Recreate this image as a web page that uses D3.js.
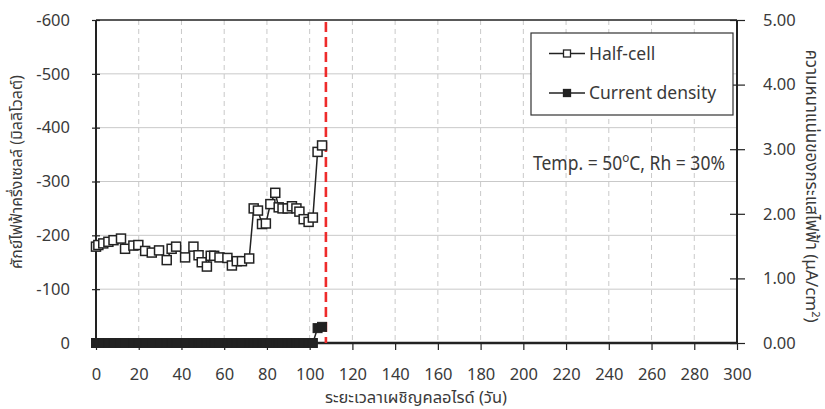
<!DOCTYPE html>
<html><head><meta charset="utf-8">
<script src="https://cdn.jsdelivr.net/npm/d3@7"></script>
<style>
body{margin:0;background:#fff;}
svg text{font-family:"Noto Sans Thai","Noto Sans","DejaVu Sans",sans-serif;fill:#3a3a3a;}
</style></head>
<body><svg id="c" width="825" height="409"></svg>
<script>
const halfDays = [0,1.1,3.4,5.8,8.2,11.7,13.6,17.5,19.8,23,26.1,29.5,33.1,35.4,37.5,41.7,45.6,48,49.5,51.9,53.7,55.3,57.8,61.5,63.6,65.9,68.3,71.7,73.8,75.8,77.7,79.5,81.6,83.9,85.5,87.3,89.7,91.7,93.8,95.2,97.2,99.5,101.5,103.7,105.8];
const halfCell = [-179,-182,-185,-188,-191,-194,-175,-181,-182,-171,-168,-172,-154,-175,-179,-159,-179,-163,-150,-142,-162,-162,-159,-158,-144,-152,-152,-157,-250,-246,-221,-222,-258,-279,-252,-250,-250,-254,-250,-244,-230,-225,-233,-355,-367];
const currDays = [0,1.1,3.4,5.8,8.2,11.7,13.6,17.5,19.8,23,26.1,29.5,33.1,35.4,37.5,41.7,45.6,48,49.5,51.9,53.7,55.3,57.8,61.5,63.6,65.9,68.3,71.7,73.8,75.8,77.7,79.5,81.6,83.9,85.5,87.3,89.7,91.7,93.8,95.2,97.2,99.5,101.5,103.7,105.8];
const currDensity = [0,0,0,0,0,0,0,0,0,0,0,0,0,0,0,0,0,0,0,0,0,0,0,0,0,0,0,0,0,0,0,0,0,0,0,0,0,0,0,0,0,0,0,0.23,0.25];
const xTicks = d3.range(0,301,20);
const yLeftTicks = [0,-100,-200,-300,-400,-500,-600];
const yRightTicks = [0,1,2,3,4,5];
const exposureDay = 107.6;
const legendLabels = ["Half-cell","Current density"];

const svg = d3.select("#c");
const L=96,R=737,T=20,B=343;
const x = d3.scaleLinear().domain([0,300]).range([L,R]);
const yL = d3.scaleLinear().domain([0,-600]).range([B,T]);
const yR = d3.scaleLinear().domain([0,5]).range([B,T]);

// grid
svg.append("g").selectAll("line").data(yLeftTicks.filter(d=>d!==0 && d!==-600)).join("line")
  .attr("x1",L).attr("x2",R).attr("y1",d=>yL(d)).attr("y2",d=>yL(d))
  .attr("stroke","#c9c9c9").attr("stroke-width",1);
svg.append("g").selectAll("line").data(xTicks.filter(d=>d!==0 && d!==300)).join("line")
  .attr("x1",d=>x(d)).attr("x2",d=>x(d)).attr("y1",T).attr("y2",B)
  .attr("stroke","#c9c9c9").attr("stroke-width",1).attr("stroke-dasharray","5,4");

// frame
svg.append("line").attr("x1",L).attr("x2",R).attr("y1",T).attr("y2",T).attr("stroke","#222").attr("stroke-width",1.5);

// axes
const axL = d3.axisLeft(yL).tickValues(yLeftTicks).tickSize(0).tickPadding(26).tickFormat(d=>String(d));
const gL = svg.append("g").attr("transform",`translate(${L},0)`).call(axL);
const axR = d3.axisRight(yR).tickValues(yRightTicks).tickSize(0).tickPadding(26).tickFormat(d3.format(".2f"));
const gR = svg.append("g").attr("transform",`translate(${R},0)`).call(axR);
const axB = d3.axisBottom(x).tickValues(xTicks).tickSize(7).tickPadding(22);
const gB = svg.append("g").attr("transform",`translate(0,${B})`).call(axB);
[gL,gR,gB].forEach(g=>{
  g.select(".domain").attr("stroke","#222").attr("stroke-width",2);
  g.selectAll(".tick text").attr("font-size",16.5).attr("fill","#3a3a3a").style("font-family","'Noto Sans',sans-serif");
  g.selectAll(".tick line").attr("stroke","#222").attr("stroke-width",1.2);
});
gB.selectAll(".tick text").attr("dy","0.5em");
gB.select(".domain").attr("d",`M${L},0H${R}`).attr("stroke-width",2.5);
gL.select(".domain").attr("d",`M0,${T}V${B}`);
gR.select(".domain").attr("d",`M0,${T}V${B}`);
// crossing ticks on vertical axes
gL.selectAll(".tick").append("line").attr("x1",-4).attr("x2",4).attr("stroke","#222").attr("stroke-width",1.2);
gR.selectAll(".tick").append("line").attr("x1",-7).attr("x2",8).attr("stroke","#222").attr("stroke-width",1.2);

// red dashed line
svg.append("line").attr("x1",x(exposureDay)).attr("x2",x(exposureDay)).attr("y1",T+2).attr("y2",B)
  .attr("stroke","#ee2b2b").attr("stroke-width",2.6).attr("stroke-dasharray","10,5");

// current density
const cd = currDays.map((d,i)=>({d,v:currDensity[i]}));
svg.append("path").datum(cd).attr("fill","none").attr("stroke","#222").attr("stroke-width",1.5)
  .attr("d",d3.line().x(p=>x(p.d)).y(p=>yR(p.v)));
const s=9;
svg.append("g").selectAll("rect").data(cd).join("rect")
  .attr("x",p=>x(p.d)-s/2).attr("y",p=>yR(p.v)-s/2).attr("width",s).attr("height",s)
  .attr("fill","#222").attr("stroke","#222").attr("stroke-width",1);

// half-cell
const hc = halfDays.map((d,i)=>({d,v:halfCell[i]}));
svg.append("path").datum(hc).attr("fill","none").attr("stroke","#222").attr("stroke-width",1.5)
  .attr("d",d3.line().x(p=>x(p.d)).y(p=>yL(p.v)));
svg.append("g").selectAll("rect").data(hc).join("rect")
  .attr("x",p=>x(p.d)-s/2).attr("y",p=>yL(p.v)-s/2).attr("width",s).attr("height",s)
  .attr("fill","#fff").attr("stroke","#222").attr("stroke-width",1.5);

// legend
const lg = svg.append("g");
lg.append("rect").attr("x",531).attr("y",33).attr("width",202).attr("height",82).attr("fill","#fff").attr("stroke","#333").attr("stroke-width",1.2);
legendLabels.forEach((t,i)=>{
  const yy = 53.5 + i*39.5;
  lg.append("line").attr("x1",549).attr("x2",585).attr("y1",yy).attr("y2",yy).attr("stroke","#222").attr("stroke-width",1.5);
  lg.append("rect").attr("x",567-3.5).attr("y",yy-3.5).attr("width",7).attr("height",7)
    .attr("fill",i===0?"#fff":"#222").attr("stroke","#222").attr("stroke-width",1.3);
  lg.append("text").attr("x",589).attr("y",yy+6).attr("font-size",17.5).text(t);
});

// annotation (right edge at 725, mildly condensed)
const annG = svg.append("g");
const ann = annG.append("text").attr("x",0).attr("y",0).attr("font-size",19.5);
ann.append("tspan").text("Temp. = 50");
ann.append("tspan").attr("dy",-8).attr("font-size",13).text("o");
ann.append("tspan").attr("dy",8).text("C, Rh = 30%");
const w = ann.node().getComputedTextLength();
const target = 192;
annG.attr("transform",`translate(${725-target},170) scale(${target/w},1)`);

// axis titles
svg.append("text").attr("transform","translate(22,172) rotate(-90)").attr("text-anchor","middle").attr("font-size",16)
  .text("ศักย์ไฟฟ้าครึ่งเซลล์ (มิลลิโวลต์)");
const rt = svg.append("text").attr("transform","translate(806,186) rotate(90)").attr("text-anchor","middle").attr("font-size",17);
rt.append("tspan").text("ความหนาแน่นของกระแสไฟฟ้า (μA/cm");
rt.append("tspan").attr("dy",-6).attr("font-size",11).text("2");
rt.append("tspan").attr("dy",6).text(")");
svg.append("text").attr("x",416).attr("y",403).attr("text-anchor","middle").attr("font-size",16.5)
  .text("ระยะเวลาเผชิญคลอไรด์ (วัน)");
</script></body></html>
